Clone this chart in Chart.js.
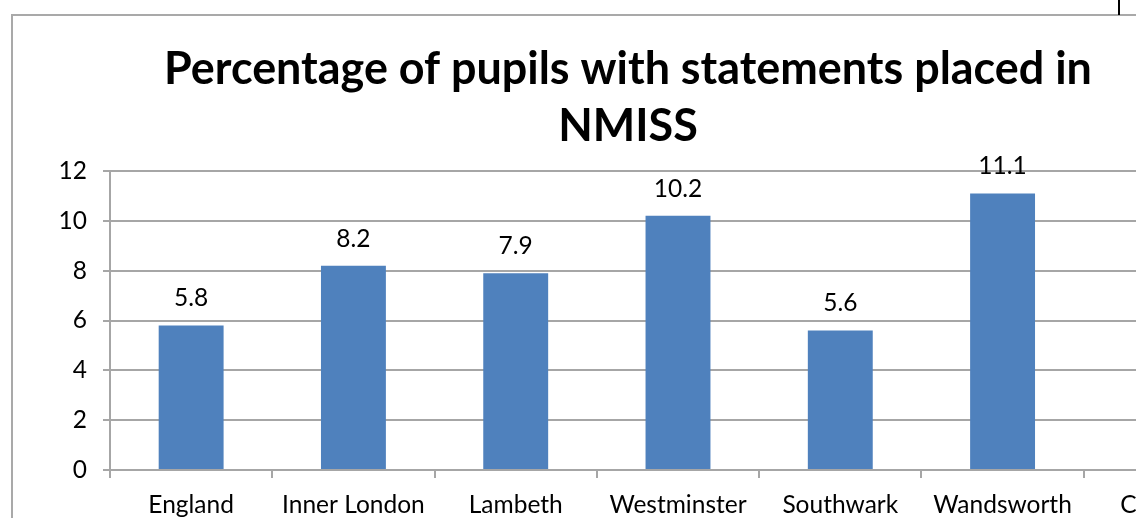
<!DOCTYPE html>
<html>
<head>
<meta charset="utf-8">
<script src="https://cdn.jsdelivr.net/npm/chart.js@4/dist/chart.umd.min.js"></script>
<style>
  html, body { margin: 0; padding: 0; background: #fff; width: 1136px; height: 518px; overflow: hidden; position: relative; }
  #frame { position: absolute; left: 11px; top: 14px; width: 1240px; height: 520px; border: 2px solid #a9a9a9; }
  #frame canvas { position: absolute; left: -3px; top: 0; }
  #mark { position: absolute; left: 1118px; top: 0; width: 2px; height: 15px; background: #000; }
</style>
</head>
<body>
<div id="frame"><canvas id="c" width="1236" height="505"></canvas></div>
<div id="mark"></div>
<script>
const titleLines = ["Percentage of pupils with statements placed in", "NMISS"];
const categories = ["England", "Inner London", "Lambeth", "Westminster", "Southwark", "Wandsworth", "Camden"];
const values = [5.8, 8.2, 7.9, 10.2, 5.6, 11.1, null];
const yTicks = [0, 2, 4, 6, 8, 10, 12];

const FONT = "Lato, 'Open Sans', sans-serif";
const TXT = 24.5;

// fit title size to the reference width
const mctx = document.createElement('canvas').getContext('2d');
mctx.font = "bold 40px " + FONT;
const tw = mctx.measureText(titleLines[0]).width;
const titleSize = Math.round(40 * 927 / tw * 10) / 10;

const valueLabels = {
  id: 'valueLabels',
  afterDatasetsDraw(chart) {
    const ctx = chart.ctx;
    const meta = chart.getDatasetMeta(0);
    ctx.save();
    ctx.font = TXT + "px " + FONT;
    ctx.fillStyle = "#000";
    ctx.textAlign = "center";
    ctx.textBaseline = "middle";
    meta.data.forEach((bar, i) => {
      const v = values[i];
      if (v === null || v === undefined) return;
      ctx.fillText(v.toFixed(1), bar.x, bar.y - 27);
    });
    ctx.restore();
  }
};

new Chart(document.getElementById('c'), {
  type: 'bar',
  data: {
    labels: categories,
    datasets: [{
      data: values,
      backgroundColor: '#4f81bd',
      borderWidth: 0,
      barPercentage: 0.4,
      categoryPercentage: 1.0
    }]
  },
  options: {
    responsive: false,
    animation: false,
    events: [],
    layout: { padding: { left: 0, right: 0, top: 0, bottom: 0 } },
    plugins: {
      legend: { display: false },
      tooltip: { enabled: false },
      title: {
        display: true,
        text: titleLines,
        color: '#000',
        font: { family: FONT, size: titleSize, weight: 'bold', lineHeight: 57 / titleSize },
        padding: { top: 25, bottom: 16 }
      }
    },
    scales: {
      x: {
        offset: true,
        grid: { display: true, drawOnChartArea: false, offset: true, color: '#a6a6a6', lineWidth: 2, tickLength: 8 },
        border: { display: true, color: '#a6a6a6', width: 2 },
        ticks: { color: '#000', font: { family: FONT, size: TXT }, padding: 12, maxRotation: 0, autoSkip: false },
        afterFit(scale) { scale.height = 51; }
      },
      y: {
        min: 0, max: 12,
        afterBuildTicks(scale) { scale.ticks = yTicks.map(v => ({ value: v })); },
        grid: { color: '#a6a6a6', lineWidth: 2, tickLength: 7 },
        border: { display: true, color: '#a6a6a6', width: 2 },
        ticks: { color: '#000', font: { family: FONT, size: TXT }, padding: 16 },
        afterFit(scale) { scale.width = 100; }
      }
    }
  },
  plugins: [valueLabels]
});
</script>
</body>
</html>
